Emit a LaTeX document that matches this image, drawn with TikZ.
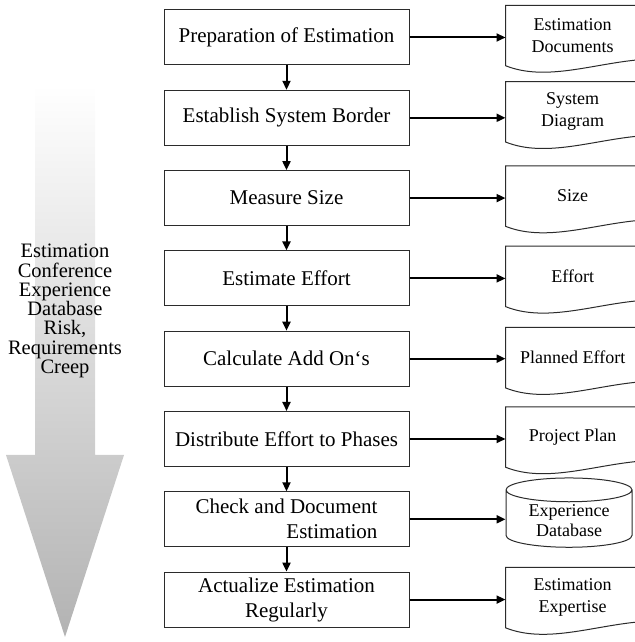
\documentclass[tikz,border=0pt]{standalone}
\usepackage{fontspec}
\setmainfont{Liberation Serif}
\usetikzlibrary{arrows.meta,positioning,shapes.geometric}
\definecolor{boxline}{HTML}{2B2B2B}

\begin{document}
\begin{tikzpicture}[
    x=1pt, y=1pt,
    node distance=24.3pt and 96pt,
    stepbox/.style={draw=boxline, line width=1pt, minimum width=245pt,
                    minimum height=55pt, inner sep=2pt, align=center,
                    font=\fontsize{21}{25}\selectfont},
    doc/.style={minimum width=134pt, minimum height=60pt, inner sep=2pt,
                align=center, font=\fontsize{18}{22}\selectfont},
    db/.style={draw=boxline, line width=1pt, cylinder, shape border rotate=90,
               aspect=0.28, minimum width=126pt, minimum height=65pt,
               inner sep=2pt, align=center, font=\fontsize{18}{20}\selectfont},
    arrow/.style={-{Triangle[length=9pt,width=8pt]}, line width=2pt}
]
    \useasboundingbox (0,0) rectangle (634,642);

    % big shaded arrow on the left
    \shade[top color=white, bottom color=gray!60]
        (35,557) -- (95,557) -- (95,187) -- (124,187) -- (65,5)
        -- (6,187) -- (35,187) -- cycle;
    \node[align=center, font=\fontsize{20.5}{19.3}\selectfont] (inputs) at (65,331)
        {Estimation\\Conference\\Experience\\Database\\Risk,\\Requirements\\Creep};

    % process steps
    \node[stepbox] (prep) at (286.5,604.5) {Preparation of Estimation};
    \node[stepbox, below=of prep] (border) {Establish System Border};
    \node[stepbox, below=of border] (measure) {Measure Size};
    \node[stepbox, below=of measure] (estimate) {Estimate Effort};
    \node[stepbox, below=of estimate] (addons) {Calculate Add On‘s};
    \node[stepbox, below=of addons] (distrib) {Distribute Effort to Phases};
    \node[stepbox, below=of distrib, align=right] (check)
        {Check and Document\\Estimation};
    \node[stepbox, below=of check] (actual)
        {Actualize Estimation\\Regularly};

    % results
    \node[doc, right=of prep, yshift=2pt] (estdocs) {Estimation\\Documents};
    \node[doc, right=of border, yshift=6pt] (sysdiag) {System\\Diagram};
    \node[doc, right=of measure, yshift=2pt] (sizedoc) {Size};
    \node[doc, right=of estimate, yshift=2pt] (effortdoc) {Effort};
    \node[doc, right=of addons, yshift=1pt] (planned) {Planned Effort};
    \node[doc, right=of distrib, yshift=2pt] (projplan) {Project Plan};
    \node[db, right=of check, yshift=-1pt] (expdb) {Experience\\Database};
    \node[doc, right=of actual, yshift=2pt] (expertise) {Estimation\\Expertise};

    \foreach \d in {estdocs,sysdiag,sizedoc,effortdoc,planned,projplan,expertise}
        \draw[boxline, line width=1pt] ([yshift=6pt]\d.south east) -- (\d.north east)
            -- (\d.north west) -- (\d.south west)
            .. controls +(40,-16) and +(-47,-4) .. ([yshift=6pt]\d.south east);

    \draw[arrow] (prep) -- (border);
    \draw[arrow] (border) -- (measure);
    \draw[arrow] (measure) -- (estimate);
    \draw[arrow] (estimate) -- (addons);
    \draw[arrow] (addons) -- (distrib);
    \draw[arrow] (distrib) -- (check);
    \draw[arrow] (check) -- (actual);

    \draw[arrow] (prep.east) -- (prep.east -| estdocs.west);
    \draw[arrow] (border.east) -- (border.east -| sysdiag.west);
    \draw[arrow] (measure.east) -- (measure.east -| sizedoc.west);
    \draw[arrow] (estimate.east) -- (estimate.east -| effortdoc.west);
    \draw[arrow] (addons.east) -- (addons.east -| planned.west);
    \draw[arrow] (distrib.east) -- (distrib.east -| projplan.west);
    \draw[arrow] (check.east) -- (check.east -| expdb.west);
    \draw[arrow] (actual.east) -- (actual.east -| expertise.west);
\end{tikzpicture}
\end{document}
